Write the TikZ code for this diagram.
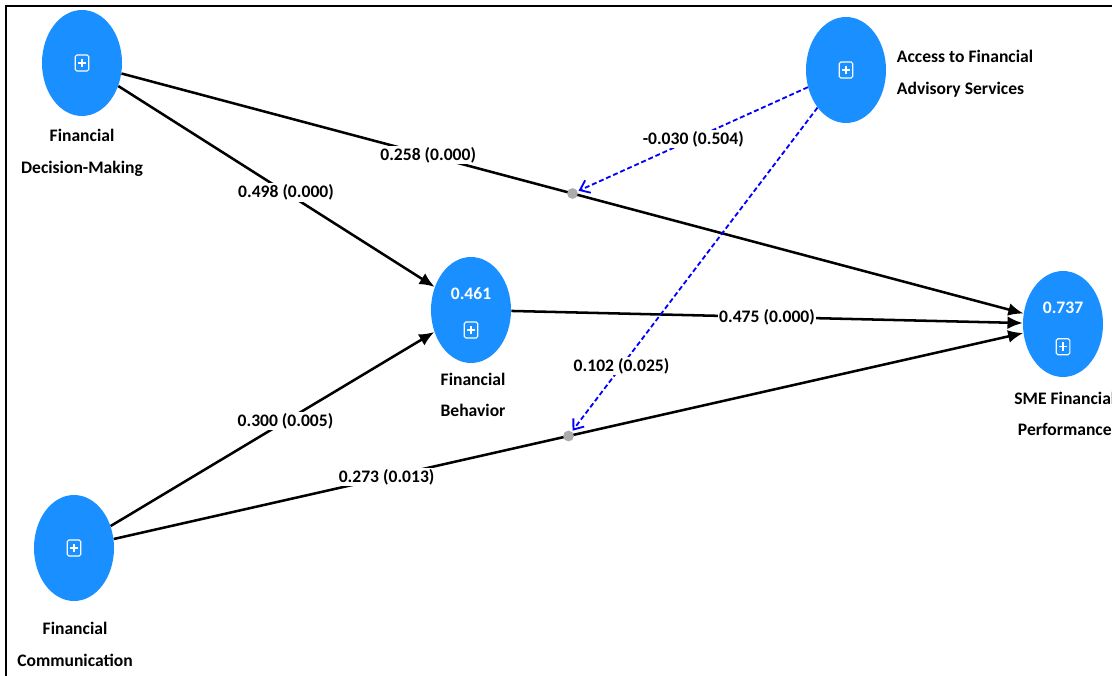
\documentclass[tikz,border=0pt]{standalone}
\usepackage{fontspec}
\setmainfont{Carlito}
\usetikzlibrary{shapes.geometric, arrows.meta, positioning}
\definecolor{lvblue}{HTML}{1A8FFF}
\definecolor{dotgray}{HTML}{ABABAB}
\tikzset{
	plusbox/.pic={
			\draw[white, line width=0.8pt, rounded corners=1.2pt] (-0.17,-0.2) rectangle (0.17,0.2);
			\draw[white, line width=0.8pt] (-0.1,0) -- (0.1,0) (0,-0.11) -- (0,0.11);
		}
}
\tikzset{
	latent/.style={ellipse, fill=lvblue, minimum width=2cm, minimum height=2.65cm, inner sep=0pt}
}
\tikzset{
	lvname/.style={font=\fontsize{12.5}{22.5}\selectfont\bfseries, align=center}
}
\tikzset{
	coef/.style={font=\fontsize{12.5}{15}\selectfont\bfseries, text=black, fill=white, inner sep=1pt}
}
\tikzset{
	rsqtext/.style={font=\fontsize{12.5}{15}\selectfont\bfseries, text=white, inner sep=0pt}
}
\tikzset{
	pathline/.style={line width=1.8pt, -{Latex[length=3.8mm, width=3.2mm]}},
	modline/.style={blue, line width=1.3pt, dash pattern=on 3.5pt off 2pt, -{Straight Barb[length=2.2mm, width=3.4mm]}},
	modpt/.style={circle, fill=dotgray, minimum size=0.27cm, inner sep=0pt}
}

\begin{document}
\begin{tikzpicture}
\useasboundingbox (0,0) rectangle (27.8,-16.9);
\draw[line width=1.4pt] (0.15,-16.9) -- (0.15,-0.15) -- (27.8,-0.15);

\node[latent] (fdm) at (2.05,-1.575) {};
\node[latent] (afas) at (21.15,-1.75) {};
\node[latent] (fb) at (11.775,-7.75) {};
\node[latent] (sme) at (26.575,-8.1) {};
\node[latent] (fc) at (1.85,-13.7) {};

\pic at (fdm) {plusbox};
\pic at (afas) {plusbox};
\pic at ([yshift=-0.5cm]fb.center) {plusbox};
\pic at ([yshift=-0.57cm]sme.center) {plusbox};
\pic at (fc) {plusbox};

\node[rsqtext] (fbrsq) at ([yshift=0.42cm]fb.center) {0.461};
\node[rsqtext] (smersq) at ([yshift=0.4cm]sme.center) {0.737};

\node[lvname] (fdmname) at (2.05,-3.825) {Financial\\Decision-Making};
\node[lvname, anchor=west, align=left] (afasname) at (22.3,-1.84) {Access to Financial\\Advisory Services};
\node[lvname] (fbname) at (11.825,-9.875) {Financial\\Behavior};
\node[lvname] (smename) at (26.62,-10.35) {SME Financial\\Performance};
\node[lvname] (fcname) at (1.875,-16.11) {Financial\\Communication};

\draw[pathline] (fdm) -- node[coef, pos=0.34] {0.258 (0.000)} node[modpt, pos=0.5] (m1) {} (sme);
\draw[pathline] (fdm) -- node[coef, pos=0.53] {0.498 (0.000)} (fb);
\draw[pathline] (fb) -- node[coef, pos=0.5] {0.475 (0.000)} (sme);
\draw[pathline] (fc) -- node[coef, pos=0.54] {0.300 (0.005)} (fb);
\draw[pathline] (fc) -- node[coef, pos=0.3] {0.273 (0.013)} node[modpt, pos=0.5] (m2) {} (sme);

\draw[modline] (afas) -- node[coef, pos=0.5] {-0.030 (0.504)} (m1);
\draw[modline] (afas) -- node[coef, pos=0.8] {0.102 (0.025)} (m2);

\end{tikzpicture}
\end{document}
